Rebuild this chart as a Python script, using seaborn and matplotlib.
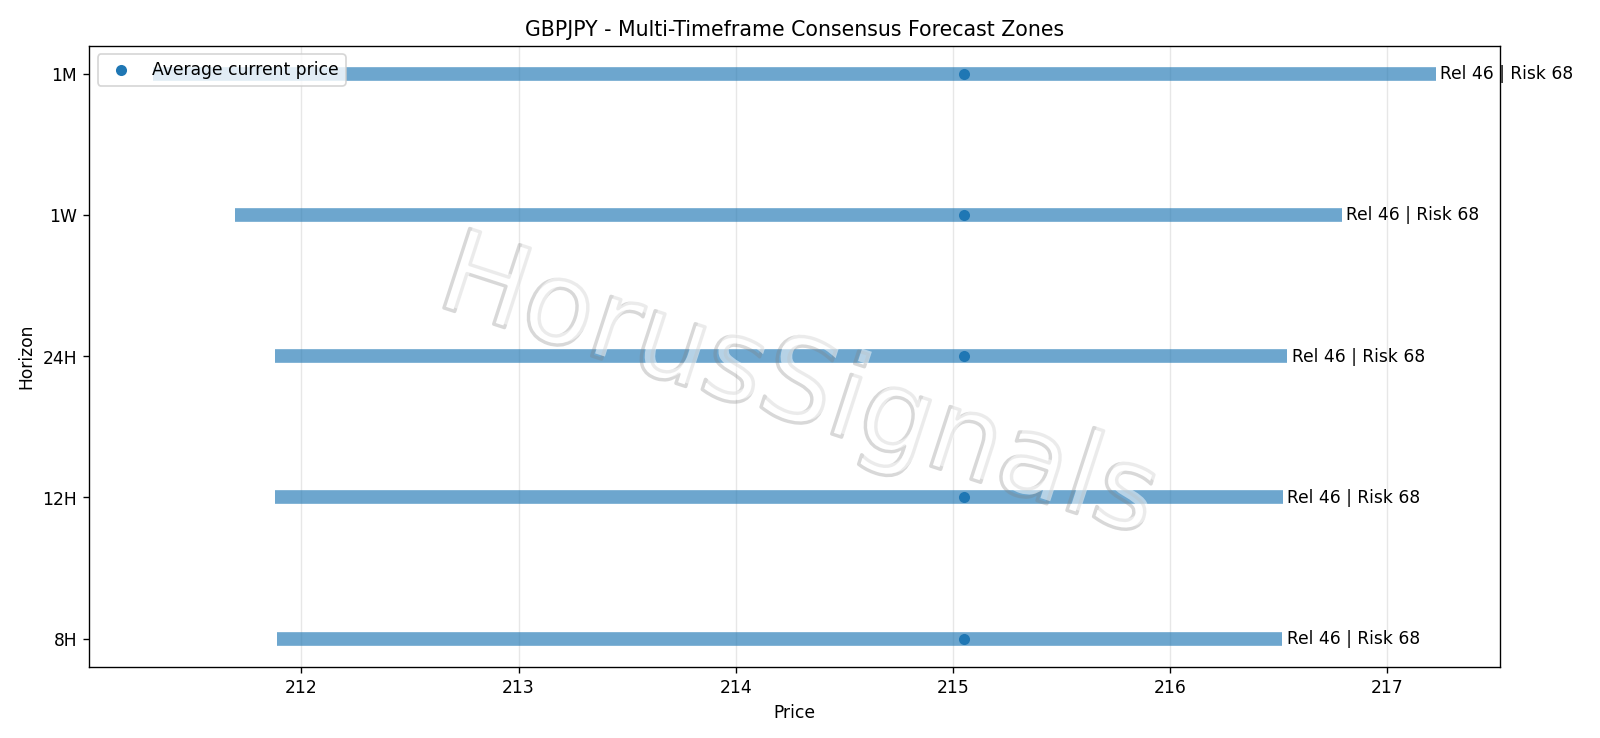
"""Multi-timeframe consensus forecast zones chart for GBPJPY."""

import matplotlib

matplotlib.use("Agg")

import matplotlib.patheffects as pe
import matplotlib.pyplot as plt
import numpy as np
import pandas as pd
import seaborn as sns

horizons = ["8H", "12H", "24H", "1W", "1M"]
zone_low = [211.886, 211.88, 211.877, 211.693, 211.317]
zone_high = [216.517, 216.52, 216.54, 216.79, 217.224]
current_price = [215.05, 215.05, 215.05, 215.05, 215.05]
reliability = [46, 46, 46, 46, 46]
risk = [68, 68, 68, 68, 68]

df = pd.DataFrame(
    {
        "horizon": horizons,
        "low": zone_low,
        "high": zone_high,
        "current": current_price,
        "rel": reliability,
        "risk": risk,
    }
)
df["pos"] = np.arange(len(df))

DPI = 1600 / 13
fig, ax = plt.subplots(figsize=(13, 6), dpi=DPI)
fig.subplots_adjust(left=89 / 1600, right=1500 / 1600, bottom=1 - 667 / 738, top=1 - 46 / 738)

ax.hlines(df["pos"], df["low"], df["high"], color="tab:blue", linewidth=8, alpha=0.65)
sns.scatterplot(
    data=df,
    x="current",
    y="pos",
    color="tab:blue",
    s=42,
    linewidth=0,
    label="Average current price",
    ax=ax,
    zorder=3,
)

for _, row in df.iterrows():
    ax.text(
        row["high"] + 0.02,
        row["pos"],
        f"Rel {row['rel']} | Risk {row['risk']}",
        va="center",
        ha="left",
        fontsize=10,
    )

ax.set_yticks(df["pos"])
ax.set_yticklabels(df["horizon"])
ax.grid(axis="x", alpha=0.3)
ax.set_axisbelow(True)
ax.set_xlabel("Price")
ax.set_ylabel("Horizon")
ax.set_title("GBPJPY - Multi-Timeframe Consensus Forecast Zones")
ax.legend(loc="upper left")

# watermark
wm = ax.text(
    0.505,
    0.45,
    "HorusSignals",
    transform=ax.transAxes,
    fontsize=67,
    color="white",
    alpha=0.5,
    ha="center",
    va="center",
    rotation=-18,
    zorder=5,
)
wm.set_path_effects(
    [
        pe.SimpleLineShadow(offset=(-2, -1.5), shadow_color="gray", alpha=0.3, linewidth=2),
        pe.Normal(),
    ]
)

fig.savefig("out.png", dpi=DPI)
plt.close(fig)
